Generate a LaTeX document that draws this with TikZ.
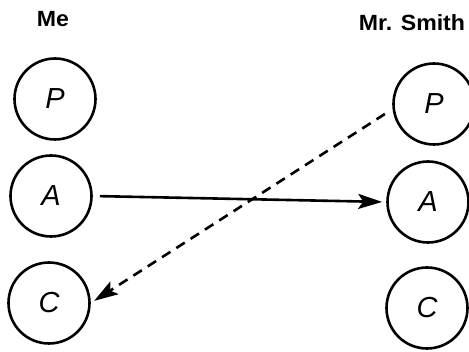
\documentclass[tikz,border=0pt]{standalone}
\usepackage{fontspec}
\setmainfont{Liberation Sans}
\usetikzlibrary{arrows.meta}
\begin{document}
\begin{tikzpicture}[x=1pt,y=-1pt,
  state/.style={circle,draw,line width=2.6pt,minimum size=81pt,inner sep=0pt,
    font=\fontsize{29}{29}\selectfont\itshape},
  who/.style={font=\fontsize{22}{22}\selectfont\bfseries},
  conn/.style={line width=2.6pt,-{Stealth[length=24pt,width=15pt,inset=5pt]}},
  dconn/.style={conn,dash pattern=on 10pt off 7pt}]
\useasboundingbox (0,0) rectangle (469,352);
\node[state] (Lp) at (55,99) {P};
\node[state] (La) at (51,196) {A};
\node[state] (Lc) at (49,303) {C};
\node[state] (Rp) at (434,104) {P};
\node[state] (Ra) at (428,202) {A};
\node[state] (Rc) at (427,308) {C};
\node[who] (me) at (53,19) {\scalebox{1.05}[1]{Me}};
\node[who] (smith) at (412,23) {\scalebox{1.05}[1]{Mr. Smith}};
\draw[conn,shorten <=7pt,shorten >=4pt] (La.east) -- (Ra.west);
\draw[dconn,shorten <=9pt,shorten >=4pt] (Rp.187) -- (Lc.0);
\end{tikzpicture}
\end{document}
